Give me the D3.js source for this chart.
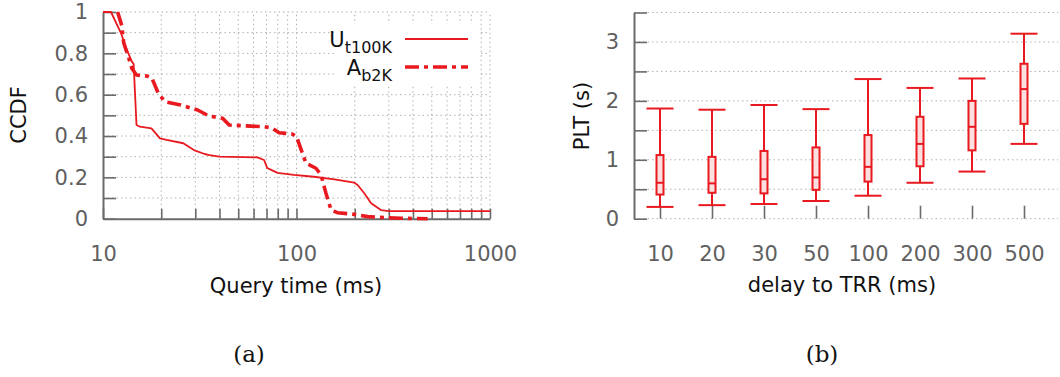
<!DOCTYPE html>
<html>
<head>
<meta charset="utf-8">
<script src="https://cdn.jsdelivr.net/npm/d3@7"></script>
<style>
  body { margin: 0; background: #fff; }
  text { font-family: "DejaVu Sans", sans-serif; }
</style>
</head>
<body>
<svg id="fig" width="1060" height="377"></svg>
<script>
// (a) CCDF of query times
const uT100kTime = [10, 11.0, 12.4, 13.3, 14.1, 14.4, 14.9, 15.5, 17.8, 19.7, 21.3, 26, 29.5, 33.5, 35.5, 40, 62.8, 68, 70.6, 74, 79.8, 97, 123, 157, 199, 207, 224, 243, 273, 300, 1000];
const uT100kCcdf = [1, 1, 0.897, 0.816, 0.76, 0.748, 0.453, 0.445, 0.437, 0.389, 0.381, 0.365, 0.332, 0.313, 0.308, 0.300, 0.297, 0.284, 0.245, 0.236, 0.222, 0.212, 0.203, 0.190, 0.174, 0.163, 0.123, 0.075, 0.042, 0.037, 0.037];

const aB2kTime = [11.9, 12.5, 12.8, 13.6, 14.1, 14.9, 16.9, 17.9, 19.3, 20.9, 25.2, 30.8, 35.3, 41.5, 44.9, 68.1, 75.2, 81.3, 95, 100, 112, 126, 134, 139, 142, 151, 163, 199, 233, 347, 476];
const aB2kCcdf = [1, 0.935, 0.85, 0.776, 0.727, 0.695, 0.69, 0.68, 0.607, 0.566, 0.55, 0.526, 0.497, 0.486, 0.453, 0.445, 0.437, 0.416, 0.410, 0.397, 0.268, 0.244, 0.211, 0.155, 0.123, 0.042, 0.029, 0.021, 0.010, 0.002, 0];

const xTicksA = [10, 20, 30, 40, 50, 60, 70, 80, 90, 100, 200, 300, 400, 500, 600, 700, 800, 900, 1000];
const yTicksA = d3.range(0, 11).map(d => d / 10);

// (b) PLT box plots per delay to TRR
const delays = ["10", "20", "30", "50", "100", "200", "300", "500"];
const whiskerLow  = [0.20, 0.23, 0.25, 0.30, 0.39, 0.61, 0.80, 1.27];
const q1          = [0.41, 0.44, 0.43, 0.49, 0.63, 0.89, 1.16, 1.61];
const median      = [0.61, 0.60, 0.67, 0.70, 0.88, 1.27, 1.56, 2.20];
const q3          = [1.08, 1.05, 1.15, 1.21, 1.42, 1.73, 2.00, 2.63];
const whiskerHigh = [1.87, 1.85, 1.93, 1.86, 2.37, 2.22, 2.38, 3.14];
const yTicksB = d3.range(0, 3.51, 0.5);

const red = "#e8191f";
const axisGray = "#6b6b6b";
const gridGray = "#b0b0b0";

const svg = d3.select("#fig");

function styleAxis(g) {
  g.select(".domain").attr("stroke", axisGray).attr("stroke-width", 2);
  g.selectAll(".tick line").attr("stroke", axisGray).attr("stroke-width", 1.6);
  g.selectAll(".tick text").attr("fill", "#606060").style("font-size", "21px")
    .style("font-family", "'DejaVu Sans', sans-serif");
}

// ---------- (a) ----------
const x = d3.scaleLog().domain([10, 1000]).range([103, 490]);
const y = d3.scaleLinear().domain([0, 1]).range([218.7, 12]);

const gridA = svg.append("g").attr("stroke", gridGray).attr("stroke-width", 1).attr("stroke-dasharray", "1.5,3");
gridA.selectAll(".v").data(xTicksA.slice(1)).join("line")
  .attr("x1", d => x(d)).attr("x2", d => x(d)).attr("y1", y(0)).attr("y2", y(1));
gridA.selectAll(".h").data(yTicksA.slice(1)).join("line")
  .attr("x1", x(10)).attr("x2", x(1000)).attr("y1", d => y(d)).attr("y2", d => y(d));

const yAxisA = svg.append("g").attr("transform", `translate(${x(10)},0)`)
  .call(d3.axisLeft(y).tickValues(yTicksA).tickSize(-13).tickSizeOuter(0).tickPadding(15)
    .tickFormat(d => Math.round(d * 10) % 2 === 0 ? String(+d.toFixed(1)) : ""));
styleAxis(yAxisA);

const xAxisA = svg.append("g").attr("transform", `translate(0,${y(0)})`)
  .call(d3.axisBottom(x).tickValues(xTicksA).tickSize(-10).tickSizeOuter(0).tickPadding(27)
    .tickFormat(d => [10, 100, 1000].includes(d) ? String(d) : ""));
styleAxis(xAxisA);

const lineA = d3.line().x(d => x(d[0])).y(d => y(d[1]));
svg.append("path").datum(d3.zip(uT100kTime, uT100kCcdf)).attr("d", lineA)
  .attr("fill", "none").attr("stroke", red).attr("stroke-width", 1.8).attr("stroke-linejoin", "round");
svg.append("path").datum(d3.zip(aB2kTime, aB2kCcdf)).attr("d", lineA)
  .attr("fill", "none").attr("stroke", red).attr("stroke-width", 3.6)
  .attr("stroke-dasharray", "14,5,4,5").attr("stroke-linejoin", "round");

// legend
const legend = svg.append("g");
legend.append("rect").attr("x", 334).attr("y", 24).attr("width", 144).attr("height", 60).attr("fill", "#fff");
const legItems = [{main: "U", sub: "t100K", y: 39, dash: null, w: 1.8}, {main: "A", sub: "b2K", y: 67, dash: "14,5,4,5", w: 3.6}];
legItems.forEach(it => {
  const t = legend.append("text").attr("x", 392).attr("y", it.y + 8).attr("text-anchor", "end")
    .style("font-size", "21px").attr("fill", "#111");
  t.append("tspan").text(it.main);
  t.append("tspan").attr("dy", 6).style("font-size", "16px").text(it.sub);
  legend.append("line").attr("x1", 405).attr("x2", 468).attr("y1", it.y).attr("y2", it.y)
    .attr("stroke", red).attr("stroke-width", it.w).attr("stroke-dasharray", it.dash);
});

svg.append("text").attr("x", 296).attr("y", 293).attr("text-anchor", "middle")
  .style("font-size", "21px").attr("fill", "#111").text("Query time (ms)");
svg.append("text").attr("transform", "translate(26,115) rotate(-90)").attr("text-anchor", "middle")
  .style("font-size", "21px").attr("fill", "#111").text("CCDF");

// ---------- (b) ----------
const xb = d3.scalePoint().domain(delays).range([634, 1050]).padding(0.5);
const yb = d3.scaleLinear().domain([0, 3.5]).range([218.7, 12.5]);

const gridB = svg.append("g").attr("stroke", gridGray).attr("stroke-width", 1).attr("stroke-dasharray", "1.5,3");
gridB.selectAll("line").data(yTicksB).join("line")
  .attr("x1", 634).attr("x2", 1058).attr("y1", d => yb(d)).attr("y2", d => yb(d));

const yAxisB = svg.append("g").attr("transform", "translate(634,0)")
  .call(d3.axisLeft(yb).tickValues(yTicksB).tickSize(-13).tickSizeOuter(0).tickPadding(15)
    .tickFormat(d => d % 1 === 0 ? String(d) : ""));
styleAxis(yAxisB);

const xAxisB = svg.append("g").attr("transform", `translate(0,${yb(0)})`)
  .call(d3.axisBottom(xb).tickSize(-13).tickSizeOuter(0).tickPadding(27));
styleAxis(xAxisB);
xAxisB.select(".domain").remove();

const boxes = svg.append("g").attr("stroke", red).attr("stroke-width", 2);
delays.forEach((d, i) => {
  const cx = xb(d);
  boxes.append("line").attr("x1", cx).attr("x2", cx).attr("y1", yb(whiskerLow[i])).attr("y2", yb(whiskerHigh[i]));
  [whiskerLow[i], whiskerHigh[i]].forEach(v => {
    boxes.append("line").attr("x1", cx - 13.5).attr("x2", cx + 13.5).attr("y1", yb(v)).attr("y2", yb(v));
  });
  boxes.append("rect").attr("x", cx - 3.5).attr("width", 7)
    .attr("y", yb(q3[i])).attr("height", yb(q1[i]) - yb(q3[i])).attr("fill", "#fbe0e0");
  boxes.append("line").attr("x1", cx - 3.5).attr("x2", cx + 3.5).attr("y1", yb(median[i])).attr("y2", yb(median[i]));
});

svg.append("text").attr("x", 842).attr("y", 292).attr("text-anchor", "middle")
  .style("font-size", "21px").attr("fill", "#111").text("delay to TRR (ms)");
svg.append("text").attr("transform", "translate(589,116) rotate(-90)").attr("text-anchor", "middle")
  .style("font-size", "21px").attr("fill", "#111").text("PLT (s)");

// captions
[["(a)", 249], ["(b)", 822]].forEach(([t, cx]) => {
  svg.append("text").attr("x", cx).attr("y", 362).attr("text-anchor", "middle")
    .style("font-family", "'DejaVu Serif', serif").style("font-size", "23px").attr("fill", "#111").text(t);
});
</script>
</body>
</html>
